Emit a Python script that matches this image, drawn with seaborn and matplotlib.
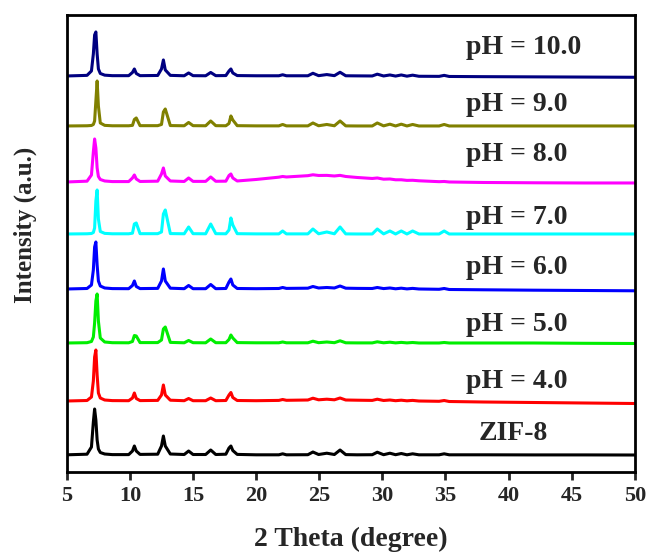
import numpy as np
import pandas as pd
import matplotlib
matplotlib.use("Agg")
import matplotlib.pyplot as plt
import seaborn as sns

# ── Data (intensity in arbitrary units) ───────────────────────────────────────
two_theta = [5.0, 6.6, 6.95, 7.1, 7.2, 7.3, 7.4, 7.5, 7.65, 8.0, 8.6,
             9.9, 10.2, 10.35, 10.5, 10.8,
             12.2, 12.5, 12.65, 12.8, 13.2,
             14.3, 14.65, 15.0,
             16.0, 16.4, 16.8,
             17.6, 17.85, 18.0, 18.15, 18.5,
             20.0, 21.8, 22.1, 22.4,
             24.1, 24.5, 24.95, 25.6, 26.2, 26.65, 27.1,
             28.0, 29.2, 29.6, 30.1, 30.6, 31.05, 31.5, 31.95, 32.4, 32.9,
             34.5, 34.9, 35.3, 38.0, 42.0, 46.0, 50.0]

zif8 = [2, 8, 80, 330, 460, 350, 150, 60, 25, 10, 4,
        4, 40, 90, 40, 6,
        8, 90, 190, 90, 10,
        5, 40, 5,
        5, 50, 5,
        8, 70, 90, 45, 6,
        2, 2, 12, 2,
        3, 30, 5, 18, 5, 50, 4,
        2, 3, 28, 3, 18, 3, 15, 2, 12, 2,
        2, 12, 2, 2, 1, 1, 0]

ph4 = [0, 5, 40, 200, 440, 510, 260, 80, 30, 10, 4,
       3, 30, 80, 25, 4,
       6, 60, 160, 60, 8,
       3, 25, 3,
       3, 30, 3,
       5, 60, 85, 35, 5,
       3, 6, 15, 7,
       10, 28, 12, 18, 12, 30, 10,
       8, 6, 18, 5, 10, 3, 8, 2, 6, 0,
       -3, 5, -5, -10, -15, -20, -25]

ph5 = [0, 3, 15, 60, 200, 420, 490, 220, 50, 10, 3,
       2, 15, 75, 70, 4,
       4, 30, 140, 160, 6,
       2, 25, 3,
       2, 40, 3,
       3, 35, 80, 50, 4,
       2, 2, 10, 2,
       2, 18, 3, 10, 3, 22, 2,
       1, 1, 12, 2, 8, 1, 6, 1, 5, 0,
       0, 5, 0, 0, 0, -3, -5]

ph6 = [0, 5, 40, 190, 420, 470, 240, 80, 30, 10, 4,
       3, 35, 80, 25, 4,
       6, 80, 200, 80, 8,
       3, 35, 3,
       3, 45, 3,
       5, 70, 100, 40, 5,
       3, 5, 15, 6,
       8, 25, 10, 15, 10, 30, 8,
       6, 5, 15, 4, 10, 2, 8, 1, 6, 0,
       -3, 5, -5, -8, -12, -15, -18]

ph7 = [0, 2, 5, 15, 60, 330, 440, 150, 25, 6, 2,
       2, 8, 100, 110, 3,
       3, 20, 200, 240, 4,
       2, 70, 3,
       2, 100, 3,
       2, 40, 160, 90, 3,
       1, 1, 30, 1,
       1, 50, 2, 20, 2, 70, 1,
       0, 0, 50, 1, 30, 0, 30, 0, 30, 0,
       0, 30, 0, 0, 0, 0, 0]

ph8 = [0, 8, 70, 300, 430, 340, 140, 55, 25, 10, 4,
       4, 40, 70, 30, 5,
       8, 80, 140, 60, 10,
       5, 40, 6,
       6, 50, 7,
       8, 65, 80, 40, 10,
       25, 48, 55, 50,
       63, 72, 65, 66, 60, 66, 55,
       45, 35, 40, 28, 30, 22, 22, 16, 17, 12,
       3, 5, 0, -5, -8, -10, -10]

ph9 = [0, 2, 5, 15, 50, 250, 450, 200, 30, 6, 2,
       2, 6, 65, 80, 3,
       3, 15, 140, 170, 4,
       2, 35, 3,
       2, 50, 3,
       2, 25, 100, 60, 3,
       1, 1, 15, 1,
       1, 30, 2, 15, 2, 50, 1,
       0, 0, 30, 1, 18, 0, 18, 0, 15, 0,
       0, 15, 0, 0, 0, 0, 0]

ph10 = [0, 6, 50, 220, 410, 440, 220, 70, 25, 8, 3,
        3, 35, 70, 25, 3,
        5, 70, 160, 60, 6,
        2, 30, 3,
        2, 35, 3,
        4, 50, 70, 30, 4,
        2, 2, 12, 2,
        2, 27, 3, 14, 3, 37, 2,
        1, 0, 18, 0, 10, -1, 10, -2, 8, -3,
        -4, 6, -5, -7, -9, -11, -13]

samples = ["ZIF-8", "pH = 4.0", "pH = 5.0", "pH = 6.0",
           "pH = 7.0", "pH = 8.0", "pH = 9.0", "pH = 10.0"]
patterns = [zif8, ph4, ph5, ph6, ph7, ph8, ph9, ph10]
stack_offset = [170, 710, 1290, 1830, 2380, 2900, 3460, 3960]
colors = ["#000000", "#ff0000", "#00ee00", "#0000ff",
          "#00ffff", "#ff00ff", "#808000", "#000080"]

frames = []
for name, vals, off in zip(samples, patterns, stack_offset):
    frames.append(pd.DataFrame({"two_theta": two_theta,
                                "intensity": np.array(vals) + off,
                                "sample": name}))
df = pd.concat(frames, ignore_index=True)

# ── Style ──────────────────────────────────────────────────────────────────────
sns.set_theme(style="ticks")
plt.rcParams["font.family"] = ["Liberation Serif", "DejaVu Serif"]
plt.rcParams["font.weight"] = "bold"

fig = plt.figure(figsize=(6.49, 5.54), dpi=100)
ax = fig.add_axes([0.103, 0.148, 0.875, 0.825])

sns.lineplot(data=df, x="two_theta", y="intensity", hue="sample",
             palette=dict(zip(samples, colors)), linewidth=2.2,
             legend=False, estimator=None, sort=False, ax=ax)

# sample labels
label_y = [390, 900, 1470, 2040, 2540, 3170, 3670, 4240]
for name, ly in zip(samples, label_y):
    if name == "ZIF-8":
        ax.text(40.4, ly, name, ha="center", va="center",
                fontsize=20, fontweight="bold")
    else:
        ax.text(36.6, ly, name, ha="left", va="center",
                fontsize=20, fontweight="bold")

ax.set_xlim(5, 50)
ax.set_ylim(0, 4570)
ax.set_xticks(range(5, 51, 5))
ax.set_yticks([])
ax.tick_params(axis="x", direction="out", length=6, width=2,
               labelsize=16, pad=4)
for lab in ax.get_xticklabels():
    lab.set_fontweight("bold")
for sp in ax.spines.values():
    sp.set_linewidth(2)
    sp.set_color("black")

ax.set_xlabel("2 Theta (degree)", fontsize=20, fontweight="bold")
ax.xaxis.set_label_coords(0.5, -0.12)
ax.set_ylabel("Intensity (a.u.)", fontsize=18, fontweight="bold")
ax.yaxis.set_label_coords(-0.053, 0.54)

plt.savefig("out.png", dpi=100)
